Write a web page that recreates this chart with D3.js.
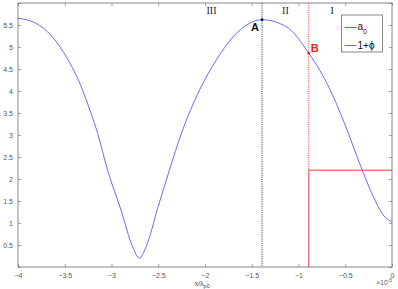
<!DOCTYPE html>
<html>
<head>
<meta charset="utf-8">
<script src="https://cdn.jsdelivr.net/npm/d3@7"></script>
<style>
body{margin:0;background:#fff;}
svg{display:block;font-family:"Liberation Sans",Arial,sans-serif;}
</style>
</head>
<body>
<svg id="chart" width="398" height="289"></svg>
<script>
// x in units of 1e-5 (x/lambda_p0)
var phiX = [-4.0,-3.85,-3.686,-3.507,-3.328,-3.22,-3.15,-3.042,-2.899,-2.774,-2.702,-2.63,-2.5,-2.381,-2.255,-2.059,-1.88,-1.70,-1.523,-1.39,-1.13,-0.89,-0.66,-0.522,-0.318,-0.2,-0.093,-0.04,0.0];
var phiY = [5.65,5.58,5.35,4.86,4.12,3.5,3.05,2.20,1.30,0.46,0.20,0.46,1.38,2.20,3.02,4.02,4.70,5.23,5.54,5.62,5.46,4.86,4.02,3.34,2.20,1.60,1.18,1.07,1.03];

var a0X = [-0.89,-0.89,0.0];
var a0Y = [0,2.2,2.2];

var xTicks = [-4,-3.5,-3,-2.5,-2,-1.5,-1,-0.5,0];
var yTicks = [0,0.5,1,1.5,2,2.5,3,3.5,4,4.5,5,5.5,6];
var regionNames = ["III","II","I"];
var regionX = [-1.93,-1.14,-0.64];

var pointA = {x:-1.39, y:5.62};
var pointB = {x:-0.89, y:4.86};

var svg = d3.select("#chart");
var margin = {top:3, right:6, bottom:22, left:18};
var width = +svg.attr("width") - margin.left - margin.right,
	height = +svg.attr("height") - margin.top - margin.bottom;

var g = svg.append("g").attr("transform","translate("+margin.left+","+margin.top+")");

var x = d3.scaleLinear().domain([-4,0]).range([0,width]);
var y = d3.scaleLinear().domain([0,6]).range([height,0]);

var axisColor = "#6a6a6a";
var tickLen = 3;
var red = "#ee2222", blue = "#5a5aee";

// tick labels (bottom/left), inward ticks on all sides
var fmt = d3.format("");
var noDomain = function(s){ s.select(".domain").remove(); };
g.append("g").attr("transform","translate(0,"+height+")")
	.call(d3.axisBottom(x).tickValues(xTicks).tickSize(-tickLen).tickPadding(6).tickFormat(fmt))
	.call(noDomain);
g.append("g")
	.call(d3.axisTop(x).tickValues(xTicks).tickSize(-tickLen).tickFormat(""))
	.call(noDomain);
g.append("g")
	.call(d3.axisLeft(y).tickValues(yTicks).tickSize(-tickLen).tickPadding(5)
		.tickFormat(function(d){ return (d===0||d===6)?"":fmt(d); }))
	.call(noDomain);
g.append("g").attr("transform","translate("+width+",0)")
	.call(d3.axisRight(y).tickValues(yTicks).tickSize(-tickLen).tickFormat(""))
	.call(noDomain);

g.selectAll(".tick line").attr("stroke",axisColor).attr("stroke-width",0.6);
g.selectAll(".tick text").attr("fill","#555").style("font-size","7px");

g.append("rect")
	.attr("width",width).attr("height",height)
	.attr("fill","none").attr("stroke",axisColor).attr("stroke-width",0.8);

// vertical markers
g.append("line")
	.attr("x1",x(pointA.x)).attr("x2",x(pointA.x)).attr("y1",0).attr("y2",height)
	.attr("stroke","#222").attr("stroke-width",0.8).attr("stroke-dasharray","1.2,1");
g.append("line")
	.attr("x1",x(pointB.x)).attr("x2",x(pointB.x)).attr("y1",0).attr("y2",y(2.2))
	.attr("stroke",red).attr("stroke-width",0.8).attr("stroke-dasharray","1.2,1");

// a0 step
var line = d3.line().x(function(d){ return x(d[0]); }).y(function(d){ return y(d[1]); });
g.append("path")
	.datum(d3.zip(a0X,a0Y))
	.attr("d",line)
	.attr("fill","none").attr("stroke",red).attr("stroke-width",0.9);

// 1+phi
g.append("path")
	.datum(d3.zip(phiX,phiY))
	.attr("d",line.curve(d3.curveMonotoneX))
	.attr("fill","none").attr("stroke",blue).attr("stroke-width",0.9);

// points and labels
g.append("circle").attr("cx",x(pointA.x)).attr("cy",y(pointA.y)).attr("r",1.4).attr("fill","#000");
g.append("circle").attr("cx",x(pointB.x)).attr("cy",y(pointB.y)).attr("r",1.4).attr("fill",red);
g.append("text").attr("x",x(pointA.x)-3).attr("y",y(pointA.y)+11)
	.attr("text-anchor","end").attr("font-weight","bold").style("font-size","11px").attr("fill","#111").text("A");
g.append("text").attr("x",x(pointB.x)+2).attr("y",y(pointB.y)-1)
	.attr("font-weight","bold").style("font-size","11px").attr("fill",red).text("B");

// region names
g.selectAll(".region").data(regionNames).enter().append("text")
	.attr("x",function(d,i){ return x(regionX[i]); }).attr("y",11)
	.attr("text-anchor","middle").style("font-family","'Liberation Serif','DejaVu Serif',serif")
	.style("font-size","10px").attr("fill","#222").text(function(d){ return d; });

// legend
var lg = g.append("g").attr("transform","translate("+(x(-0.54))+","+12+")");
lg.append("rect").attr("width",41).attr("height",37).attr("fill","#fff").attr("stroke","#555").attr("stroke-width",0.7);
lg.append("line").attr("x1",3).attr("x2",15).attr("y1",12.5).attr("y2",12.5).attr("stroke",red).attr("stroke-width",0.9);
lg.append("line").attr("x1",3).attr("x2",15).attr("y1",30.5).attr("y2",30.5).attr("stroke",blue).attr("stroke-width",0.9);
var t1 = lg.append("text").attr("x",16).attr("y",15).style("font-size","10px").attr("fill","#111");
t1.append("tspan").text("a");
t1.append("tspan").attr("dy",4).style("font-size","7px").text("0");
lg.append("text").attr("x",16).attr("y",34).style("font-size","10px").attr("fill","#111").text("1+\u03d5");

// axis label
var xl = svg.append("text").attr("x",margin.left+x(-2.03)).attr("y",286)
	.attr("text-anchor","middle").style("font-size","7px").attr("fill","#444");
xl.append("tspan").text("x/\u03bb");
xl.append("tspan").attr("dy",2).style("font-size","5.5px").text("p0");

var ex = svg.append("text").attr("x",margin.left+width).attr("y",285)
	.attr("text-anchor","end").style("font-size","6.5px").attr("fill","#555");
ex.append("tspan").text("\u00d710");
ex.append("tspan").attr("dy",-3).style("font-size","5px").text("-5");
</script>
</body>
</html>
